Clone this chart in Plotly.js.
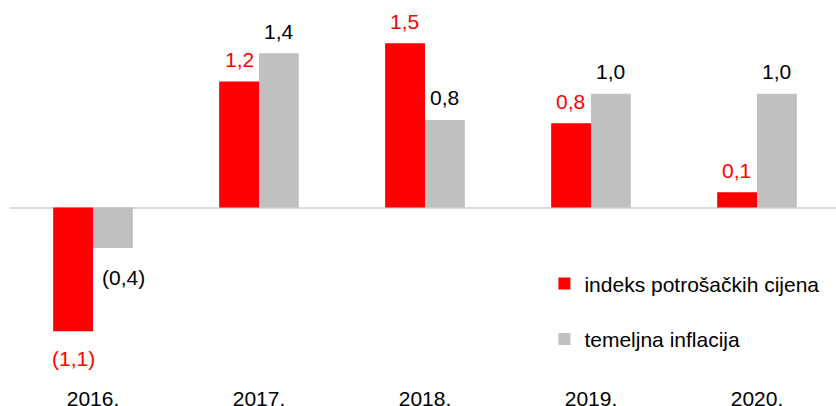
<!DOCTYPE html>
<html>
<head>
<meta charset="utf-8">
<script src="https://cdn.plot.ly/plotly-3.0.1.min.js"></script>
<style>html,body{margin:0;padding:0;background:#fff}#chart{width:836px;height:406px}</style>
</head>
<body>
<div id="chart"></div>
<script>
var categories = ['2016.', '2017.', '2018.', '2019.', '2020.'];
var cpiName = 'indeks potrošačkih cijena';
var coreName = 'temeljna inflacija';
var cpiValues = [-1.13, 1.15, 1.5, 0.77, 0.14];
var coreValues = [-0.37, 1.41, 0.8, 1.04, 1.04];
var cpiLabels = ['(1,1)', '1,2', '1,5', '0,8', '0,1'];
var coreLabels = ['(0,4)', '1,4', '0,8', '1,0', '1,0'];

var FONT = 'Liberation Sans, Arial, sans-serif';
var FS = 21;
var RED = '#FF0000', GREY = '#C0C0C0';

var traces = [
  {type: 'bar', name: cpiName, x: categories, y: cpiValues, marker: {color: RED}, legendgroup: 'a', hoverinfo: 'none'},
  {type: 'bar', name: coreName, x: categories, y: coreValues, marker: {color: GREY}, legendgroup: 'b', hoverinfo: 'none'}
];

var annotations = [];
function addLabels(vals, labels, color, xshift, extraNeg, negX) {
  vals.forEach(function (v, i) {
    annotations.push({
      x: i, y: v, xref: 'x', yref: 'y', text: labels[i], showarrow: false,
      xshift: v >= 0 ? xshift : negX, yshift: v >= 0 ? 22 : -(22 + extraNeg), yanchor: 'middle', xanchor: 'center',
      font: {family: FONT, size: FS, color: color}
    });
  });
}
addLabels(cpiValues, cpiLabels, RED, -20, 5, -20);
addLabels(coreValues, coreLabels, '#000000', 20, 7, 30);

var layout = {
  width: 836, height: 406,
  margin: {l: 10, r: 0, t: 10, b: 36},
  paper_bgcolor: '#fff', plot_bgcolor: '#fff',
  font: {family: FONT, size: FS, color: '#000'},
  barmode: 'group', bargap: 0.52, bargroupgap: 0,
  showlegend: true,
  legend: {x: 0.647, xanchor: 'left', y: 0.296, yanchor: 'top', font: {family: FONT, size: FS, color: '#000'},
           tracegroupgap: 25, bgcolor: 'rgba(0,0,0,0)', traceorder: 'grouped'},
  xaxis: {type: 'category', range: [-0.5, 4.476], showgrid: false, zeroline: false, showline: false,
          ticks: '', ticklabelstandoff: 14, tickfont: {family: FONT, size: FS, color: '#000'}, fixedrange: true},
  yaxis: {range: [-1.484, 1.804], showgrid: false, zeroline: true, zerolinecolor: '#D9D9D9', zerolinewidth: 2,
          showticklabels: false, ticks: '', showline: false, fixedrange: true},
  annotations: annotations
};

Plotly.newPlot('chart', traces, layout, {displayModeBar: false, staticPlot: true});
</script>
</body>
</html>
